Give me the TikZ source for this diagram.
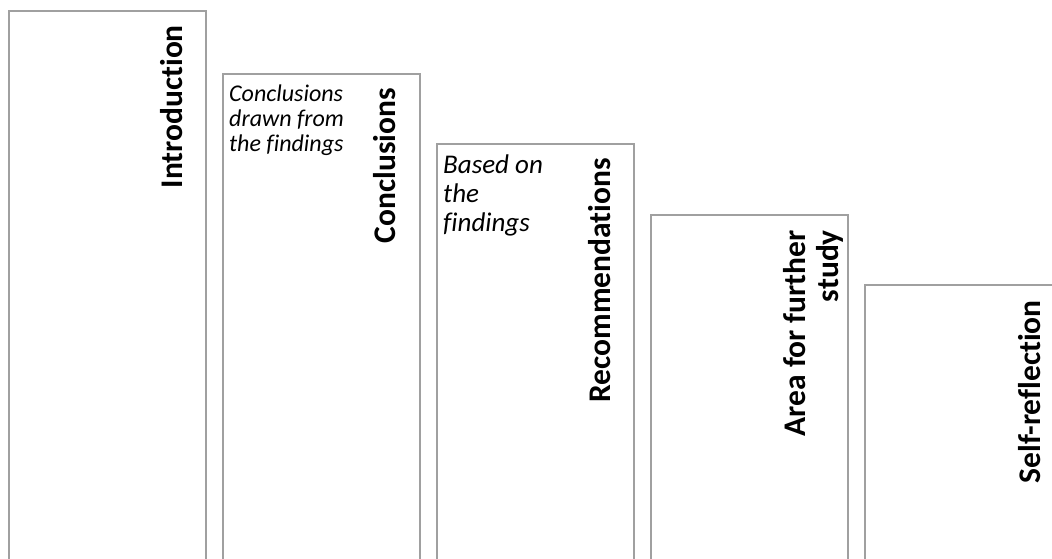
\documentclass[tikz,border=0pt]{standalone}
\usepackage{fontspec}
\setmainfont{Carlito}[Ligatures=NoCommon]
\definecolor{edge}{HTML}{A0A0A0}
\begin{document}
\begin{tikzpicture}[x=1pt,y=-1pt,
  panel/.style={draw=edge, line width=1.7pt, fill=white, anchor=north west, minimum width=197pt, inner sep=0pt},
  title/.style={rotate=90, inner sep=0pt, font=\bfseries\fontsize{31.5}{33}\selectfont, text=black},
  note/.style 2 args={inner sep=0pt, align=left, font=\itshape\fontsize{#1}{#2}\selectfont, text=black}]
\useasboundingbox (0,0) rectangle (1052,559);
\node[panel, minimum height=553pt] (b1) at (8,10) {};
\node[panel, minimum height=490pt] (b2) at (222,73) {};
\node[panel, minimum height=420pt] (b3) at (436,143) {};
\node[panel, minimum height=349pt] (b4) at (650,214) {};
\node[panel, minimum height=279pt] (b5) at (864,284) {};
\node[title, anchor=base east] (t1) at (182,25) {Introduction};
\node[title, anchor=base east] (t2) at (395,88) {Conclusions};
\node[title, anchor=base east] (t3) at (610,158) {Recommendations};
\node[title, anchor=base east, align=right] (t4) at (838,230) {Area for further\\study};
\node[title, anchor=base east] (t5) at (1040,300) {Self-reflection};
\node[note={24}{25}, anchor=base west] (n2) at (229,151.5) {Conclusions\\drawn from\\the findings};
\node[note={27}{29}, anchor=base west] (n3) at (443,231.5) {Based on\\the\\findings};
\end{tikzpicture}
\end{document}
